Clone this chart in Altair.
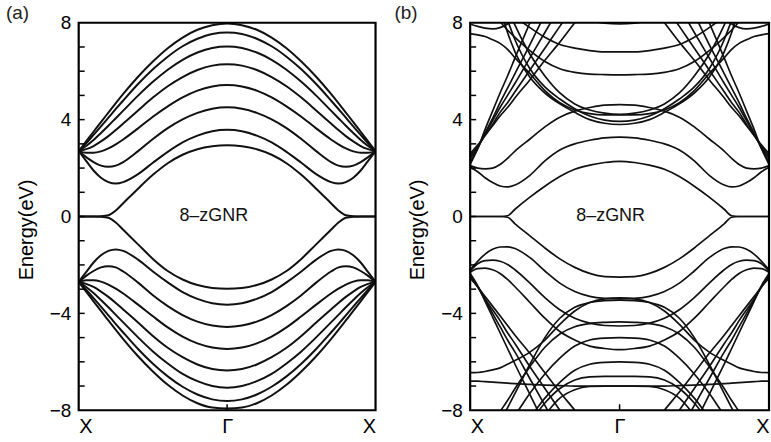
import altair as alt
import pandas as pd

# k-path sample positions (fraction of the way from X to Gamma); bands are symmetric about Gamma
K = [0, 0.05, 0.1, 0.15, 0.2, 0.25, 0.3, 0.4, 0.5, 0.6, 0.7, 0.8, 0.9, 1.0]

# ---------------- panel (a): tight-binding 8-zGNR ----------------
a_c1 = [0, 0, 0, 0.01, 0.05, 0.25, 0.55, 1.15, 1.72, 2.2, 2.55, 2.78, 2.9, 2.94]
a_c2 = [2.7, 2.3, 1.9, 1.6, 1.42, 1.36, 1.42, 1.75, 2.22, 2.67, 3.06, 3.34, 3.52, 3.58]
a_c3 = [2.7, 2.45, 2.25, 2.1, 2.05, 2.1, 2.25, 2.7, 3.2, 3.65, 4.01, 4.28, 4.45, 4.51]
a_c4 = [2.7, 2.63, 2.63, 2.69, 2.81, 2.98, 3.18, 3.64, 4.12, 4.55, 4.92, 5.2, 5.37, 5.43]
a_c5 = [2.7, 2.78, 2.91, 3.1, 3.32, 3.57, 3.84, 4.38, 4.91, 5.38, 5.76, 6.05, 6.23, 6.29]
a_c6 = [2.7, 2.91, 3.16, 3.45, 3.75, 4.06, 4.37, 4.99, 5.56, 6.06, 6.47, 6.77, 6.96, 7.02]
a_c7 = [2.7, 3.02, 3.37, 3.72, 4.08, 4.44, 4.79, 5.47, 6.08, 6.6, 7.03, 7.34, 7.54, 7.6]
a_c8 = [2.7, 3.1, 3.5, 3.9, 4.29, 4.68, 5.06, 5.77, 6.4, 6.95, 7.39, 7.71, 7.9, 7.97]
a_v1 = [0, 0, 0, -0.01, -0.05, -0.25, -0.55, -1.15, -1.75, -2.25, -2.6, -2.83, -2.95, -2.98]
a_v2 = [-2.7, -2.3, -1.9, -1.6, -1.42, -1.36, -1.42, -1.78, -2.27, -2.72, -3.12, -3.4, -3.58, -3.64]
a_v3 = [-2.7, -2.45, -2.25, -2.1, -2.05, -2.1, -2.27, -2.73, -3.25, -3.7, -4.07, -4.34, -4.5, -4.56]
a_v4 = [-2.7, -2.63, -2.63, -2.69, -2.81, -2.98, -3.18, -3.64, -4.12, -4.58, -4.96, -5.24, -5.41, -5.47]
a_v5 = [-2.7, -2.78, -2.91, -3.1, -3.32, -3.57, -3.84, -4.38, -4.93, -5.42, -5.81, -6.11, -6.3, -6.36]
a_v6 = [-2.7, -2.91, -3.16, -3.45, -3.75, -4.06, -4.37, -4.99, -5.57, -6.07, -6.5, -6.8, -7.0, -7.07]
a_v7 = [-2.7, -3.02, -3.37, -3.72, -4.08, -4.44, -4.79, -5.47, -6.08, -6.6, -7.03, -7.35, -7.55, -7.62]
a_v8 = [-2.7, -3.1, -3.5, -3.9, -4.29, -4.68, -5.06, -5.77, -6.4, -6.95, -7.39, -7.71, -7.89, -7.93]

# ---------------- panel (b): first-principles 8-zGNR ----------------
b_c1 = [0, 0, 0, 0, 0, 0.03, 0.3, 0.8, 1.25, 1.65, 1.95, 2.12, 2.23, 2.28]
b_c2 = [2.03, 1.85, 1.6, 1.4, 1.26, 1.22, 1.3, 1.7, 2.3, 2.75, 3.0, 3.15, 3.25, 3.28]
b_c3 = [2.1, 2.0, 1.97, 2.0, 2.15, 2.4, 2.7, 3.2, 3.7, 4.1, 4.35, 4.5, 4.6, 4.62]
b_l1 = [2.15, 2.8, 3.6, 4.35, 5.1, 5.8, 6.55, 8.0, 9.45, 10.9, 12.4, 13.8, 15.0, 15.5]
b_l2 = [2.25, 2.8, 3.45, 4.05, 4.7, 5.3, 5.9, 7.1, 8.35, 9.6, 10.8, 12.0, 13.0, 13.5]
b_l3 = [2.4, 2.85, 3.4, 3.95, 4.5, 5.0, 5.5, 6.55, 7.6, 8.65, 9.7, 10.7, 11.5, 12.0]
b_l4 = [2.5, 2.9, 3.35, 3.8, 4.3, 4.7, 5.15, 6.05, 6.95, 7.85, 8.75, 9.6, 10.3, 10.6]
b_l5 = [2.6, 2.95, 3.35, 3.75, 4.15, 4.5, 4.9, 5.65, 6.45, 7.2, 8.0, 8.75, 9.4, 9.7]
b_u1 = [12, 11, 10, 9.5, 8.6, 7.6, 6.8, 5.75, 5.1, 4.65, 4.3, 4.0, 3.85, 3.8]
b_u2 = [12, 11, 10.3, 9.6, 8.9, 8.1, 7.3, 6.1, 5.35, 4.85, 4.45, 4.15, 3.98, 3.93]
b_u3 = [12, 11, 10.4, 9.8, 9.2, 8.6, 7.9, 6.7, 5.8, 5.1, 4.65, 4.4, 4.27, 4.22]
b_u4 = [10, 9.5, 9, 8.5, 8.05, 7.7, 7.4, 6.85, 6.4, 6.1, 5.95, 5.88, 5.86, 5.85]
b_u5 = [10, 9.7, 9.4, 9.1, 8.8, 8.5, 8.25, 7.8, 7.4, 7.1, 6.95, 6.85, 6.8, 6.8]
b_u6 = [10, 10, 10, 10, 10, 10, 10, 9.5, 9.0, 8.6, 8.3, 8.1, 7.98, 7.95]
b_cap = [7.55, 7.5, 7.43, 7.3, 7.15, 6.9, 6.55, 5.9, 5.2, 4.7, 4.4, 4.25, 4.2, 4.2]
b_top = [7.95, 7.85, 7.78, 7.75, 7.8, 7.95, 8.2, 8.8, 9.5, 10, 10, 10, 10, 10]
b_v1 = [0, 0, 0, 0, 0, -0.03, -0.3, -0.8, -1.3, -1.75, -2.1, -2.35, -2.48, -2.5]
b_v2 = [-2.2, -1.85, -1.55, -1.35, -1.26, -1.25, -1.32, -1.7, -2.25, -2.75, -3.1, -3.3, -3.38, -3.4]
b_v3 = [-2.25, -1.95, -1.82, -1.8, -1.85, -1.98, -2.2, -2.75, -3.35, -3.85, -4.2, -4.4, -4.5, -4.52]
b_v4 = [-2.3, -2.15, -2.13, -2.2, -2.35, -2.6, -2.9, -3.55, -4.2, -4.75, -5.1, -5.35, -5.45, -5.5]
b_d1 = [-2.35, -2.85, -3.5, -4.15, -4.8, -5.45, -6.1, -7.35, -8.6, -9.9, -11, -12, -13, -13.5]
b_d2 = [-2.45, -2.9, -3.45, -4.0, -4.55, -5.1, -5.6, -6.7, -7.8, -8.9, -10, -11, -11.8, -12]
b_d3 = [-2.5, -2.9, -3.4, -3.85, -4.3, -4.8, -5.25, -6.2, -7.1, -8.0, -8.9, -9.8, -10.5, -10.8]
b_d4 = [-2.55, -2.9, -3.3, -3.7, -4.1, -4.5, -4.9, -5.65, -6.45, -7.25, -8.0, -8.8, -9.4, -9.6]
b_h1 = [-6.45, -6.44, -6.4, -6.33, -6.25, -6.1, -5.95, -5.6, -5.1, -4.45, -3.9, -3.55, -3.4, -3.36]
b_h2 = [-11, -10.3, -9.6, -8.9, -8.4, -7.9, -7.3, -6.1, -5.0, -4.2, -3.75, -3.55, -3.47, -3.45]
b_h3 = [-10, -9.5, -9, -8.5, -8.05, -7.6, -7.1, -6.2, -5.4, -4.85, -4.55, -4.42, -4.37, -4.35]
b_h4 = [-10, -10, -9.6, -9.3, -9, -8.6, -8.2, -7.3, -6.5, -5.85, -5.35, -5.1, -5.02, -5.0]
b_h5 = [-11, -10.5, -10.2, -9.9, -9.6, -9.3, -9, -8.3, -7.5, -6.85, -6.35, -6.1, -6.02, -6.0]
b_h6 = [-11, -11, -11, -10.5, -10, -9.6, -9.2, -8.5, -7.7, -7.1, -6.75, -6.62, -6.6, -6.6]
b_h7 = [-12, -12, -12, -11.5, -11, -10.5, -10, -9, -8.2, -7.5, -7.15, -7.02, -7.0, -7.0]
b_f1 = [-6.8, -6.8, -6.82, -6.84, -6.86, -6.88, -6.9, -6.93, -6.96, -6.98, -7.0, -7.0, -7.0, -7.0]

bands_a = {"c1": a_c1, "c2": a_c2, "c3": a_c3, "c4": a_c4, "c5": a_c5, "c6": a_c6,
           "c7": a_c7, "c8": a_c8, "v1": a_v1, "v2": a_v2, "v3": a_v3, "v4": a_v4,
           "v5": a_v5, "v6": a_v6, "v7": a_v7, "v8": a_v8}
bands_b = {"c1": b_c1, "c2": b_c2, "c3": b_c3, "l1": b_l1, "l2": b_l2, "l3": b_l3,
           "l4": b_l4, "l5": b_l5, "u1": b_u1, "u2": b_u2, "u3": b_u3, "u4": b_u4,
           "u5": b_u5, "u6": b_u6, "cap": b_cap, "top": b_top, "v1": b_v1, "v2": b_v2,
           "v3": b_v3, "v4": b_v4, "d1": b_d1, "d2": b_d2, "d3": b_d3, "d4": b_d4,
           "h1": b_h1, "h2": b_h2, "h3": b_h3, "h4": b_h4, "h5": b_h5, "h6": b_h6,
           "h7": b_h7, "f1": b_f1}

minor_ticks = [-7, -6, -5, -4, -3, -2, -1, 0, 1, 2, 3, 4, 5, 6, 7]
y_labels = [-8, -4, 0, 4, 8]
x_ticks = [0, 1, 2]
panel_names = ["(a)", "(b)"]
label_text = "8–zGNR"
label_pos_a = (0.91, 0)
label_pos_b = (0.94, 0)

FONT = "Liberation Sans"
W_A, W_B, H = 298, 300, 389


def band_table(bands):
    rows = []
    for name, vals in bands.items():
        for k, e in zip(K, vals):
            rows.append({"band": name, "x": k, "e": e})
            if k < 1:
                rows.append({"band": name, "x": 2 - k, "e": e})
    return pd.DataFrame(rows)


def panel(bands, letter, letter_dx, lab_pos, width, stroke_w):
    xs = alt.Scale(domain=[0, 2], nice=False, zero=False)
    ys = alt.Scale(domain=[-8, 8], nice=False, zero=False)
    lines = alt.Chart(band_table(bands)).mark_line(
        color="#111111", strokeWidth=stroke_w, interpolate="monotone", clip=True
    ).encode(
        x=alt.X("x:Q", scale=xs,
                axis=alt.Axis(values=x_ticks, ticks=False, domain=False, grid=False,
                              labelExpr="datum.value == 1 ? 'Γ' : 'X'",
                              labelFontSize=20, labelPadding=6, labelFont=FONT,
                              labelColor="black"),
                title=None),
        y=alt.Y("e:Q", scale=ys,
                axis=alt.Axis(values=y_labels, ticks=False, domain=False, grid=False,
                              labelFontSize=19, labelPadding=8, labelFont=FONT,
                              labelColor="black", titleFont=FONT, titleFontSize=20,
                              titleFontWeight="normal", titleColor="black",
                              titlePadding=13, titleY=H / 2 + 13),
                title="Energy(eV)"),
        detail="band:N",
        order="x:Q",
    )
    frame = alt.Chart(pd.DataFrame({"f": [0]})).mark_rect(
        fill="transparent", stroke="black", strokeWidth=2.2
    ).encode(x=alt.value(0), x2=alt.value(width), y=alt.value(0), y2=alt.value(H))
    ticks = alt.Chart(pd.DataFrame({"e": minor_ticks})).mark_rule(
        color="black", strokeWidth=1.5
    ).encode(x=alt.value(0), x2=alt.value(6), y=alt.Y("e:Q", scale=ys))
    gtick = alt.Chart(pd.DataFrame({"x": [1]})).mark_rule(
        color="black", strokeWidth=1.5
    ).encode(x=alt.X("x:Q", scale=xs), y=alt.value(H), y2=alt.value(H - 6))
    lab = alt.Chart(pd.DataFrame({"x": [lab_pos[0]], "e": [lab_pos[1]], "t": [label_text]})).mark_text(
        font=FONT, fontSize=18, color="#111111"
    ).encode(x=alt.X("x:Q", scale=xs), y=alt.Y("e:Q", scale=ys), text="t:N")
    let = alt.Chart(pd.DataFrame({"t": [letter]})).mark_text(
        font=FONT, fontSize=19, color="#222222", align="left", baseline="middle"
    ).encode(x=alt.value(letter_dx), y=alt.value(-10), text="t:N")
    return alt.layer(lines, frame, ticks, gtick, lab, let).properties(width=width, height=H)


pa = panel(bands_a, panel_names[0], -73, label_pos_a, W_A, 2.0)
pb = panel(bands_b, panel_names[1], -76, label_pos_b, W_B, 1.7)

chart = alt.hconcat(pa, pb, spacing=17).properties(
    padding={"left": 6, "top": 3, "right": 0, "bottom": 0}
).configure(background="white").configure_view(strokeWidth=0)

chart.save("out.html", embed_options={"renderer": "svg", "actions": False})
